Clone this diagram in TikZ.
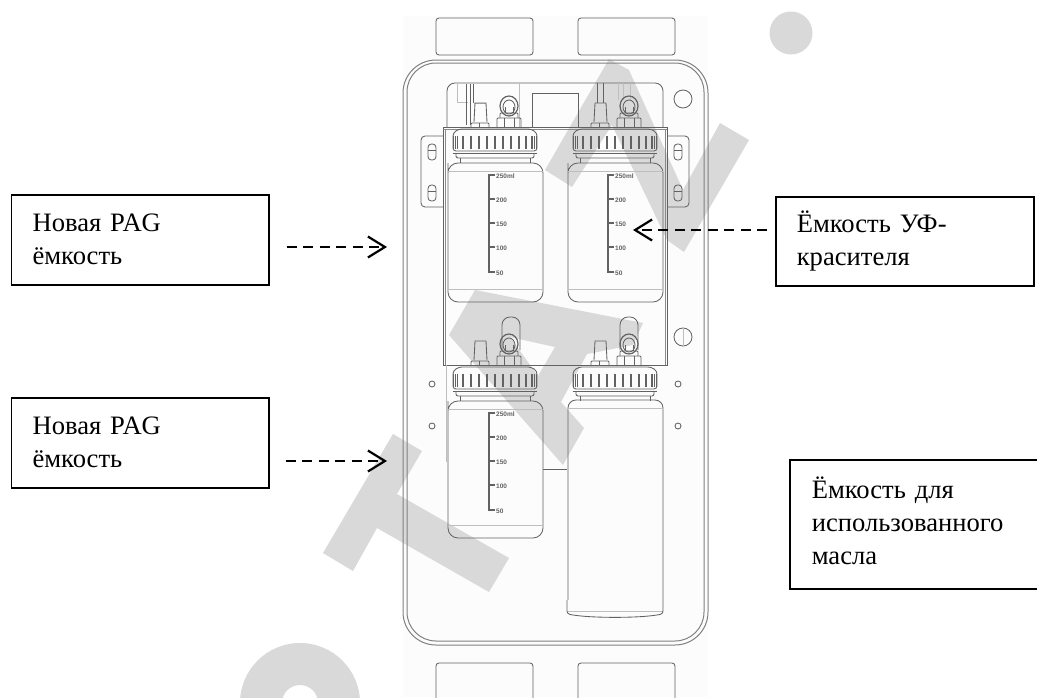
\documentclass[tikz,border=0pt]{standalone}
\usepackage{fontspec}
\setmainfont{Liberation Serif}
\newfontfamily\lblfont{Liberation Sans}
\usetikzlibrary{arrows.meta}
\definecolor{wm}{HTML}{D9D9D9}
\definecolor{ln}{HTML}{626262}
\definecolor{lt}{HTML}{BEBEBE}
\definecolor{pn}{HTML}{FCFCFC}
\tikzset{
  wmark/.style={fill=wm,draw=none,even odd rule},
  thinline/.style={draw=ln,line width=0.85pt},
  panel/.style={draw=ln!80,line width=1pt},
  faint/.style={draw=lt,line width=0.8pt},
  rib/.style={draw=ln,line width=1.1pt},
  callbox/.style={draw=black,line width=1.6pt,anchor=north west,align=left,inner sep=0pt,font=\fontsize{26.6}{33}\selectfont},
  callarrow/.style={draw=black,line width=2pt,dash pattern=on 10pt off 6.5pt,-{Straight Barb[length=17pt,width=21pt,line width=2.2pt]}},
  tinylabel/.style={font=\lblfont\fontsize{6.5}{7}\selectfont\bfseries,text=ln,inner sep=0pt,anchor=west}
}
\newcommand{\capset}[2]{%
  \begin{scope}[shift={(#1,#2)}]
    \draw[thinline,rounded corners=3pt] (-42,24) -- (-42,6) -- (-36,2) -- (36,2) -- (42,6) -- (42,24) -- cycle;
    \foreach \r in {-41.5,-39.5,-37.5,-32,-24,-16,-8,0,8,16,24,31,37,39.5,41.5}
      \draw[rib] (\r,9) -- (\r,22);
    \draw[thinline] (-42,26) -- (42,26);
    \draw[thinline,rounded corners=2pt] (-39,26) -- (-39,31) -- (39,31) -- (39,26);
    \draw[thinline] (-35,31) -- (-35,36) (35,31) -- (35,36);
    \draw[thinline] (-21,-5) -- (-20,-24) -- (-9,-24) -- (-8,-5);
    \draw[thinline,rounded corners=1pt] (-24,1) -- (-24,-4) -- (-6,-4) -- (-6,1);
    \draw[thinline] (-16,-4) -- (-16,1);
    \draw[thinline,rounded corners=1pt] (2,1) -- (2,-9) -- (26,-9) -- (26,1);
    \draw[thinline] (9,-9) -- (9,1) (19,-9) -- (19,1);
    \draw[thinline,rounded corners=1pt] (5,-9) -- (5,-14) -- (23,-14) -- (23,-9);
    \draw[thinline,line width=1.2pt] (14,-21) ellipse [x radius=9,y radius=10];
    \draw[thinline] (14,-20) ellipse [x radius=6,y radius=7];
    \draw[thinline] (10,-20) -- (10,-14) (18,-20) -- (18,-14);
  \end{scope}}
\newcommand{\bottlebody}[4]{% cx, top, bottom, name
  \draw[thinline,rounded corners=10pt] (#1-47,#2+10) -- (#1-47,#2) -- (#1+48,#2) -- (#1+48,#3) -- (#1-47,#3) -- cycle;
  \draw[faint] (#1-47,#2+8) -- (#1+48,#2+8) (#1-47,#3-13) -- (#1+48,#3-13);
}
\newcommand{\scalemarks}[3]{% name, spine x, bottle top
  \draw[rib] (#2+6,#3+12) -- (#2,#3+12) -- (#2,#3+109) -- (#2+6,#3+109);
  \foreach \v/\d in {250ml/12,200/36,150/60,100/84,50/109} {
    \draw[rib] (#2,#3+\d) -- (#2+6,#3+\d);
    \node[tinylabel] (#1\v) at (#2+7,#3+\d+1.5) {\v};
  }}
\begin{document}
\begin{tikzpicture}[x=1pt,y=-1pt]
\useasboundingbox (0,0) rectangle (1037,697);
\begin{scope}
\clip (0,0) rectangle (1037,697);
\fill[pn] (403,16) rectangle (708,697);
% watermark
\fill[wm] (791,33) circle (21.5);
\fill[wmark] (545,170) -- (572,187) -- (612,125) -- (667,240) -- (684,252) -- (749,140) -- (720,123) -- (683,190) -- (629,70) -- (609,59) -- cycle;
\fill[wmark] (475,290) -- (643,323) -- (633,345) -- (587,354) -- (561,402) -- (584,428) -- (563,465) -- (449,335) -- cycle
  (510,337) -- (555,347) -- (538,376) -- cycle;
\fill[wmark] (393,434) -- (422,451) -- (397,494) -- (509,558) -- (489,592) -- (377,528) -- (353,571) -- (323,553) -- cycle;
\fill[wm,even odd rule] (300,703) circle (60) (300,703) circle (18);
% tabs
\foreach \n/\a/\b/\c/\d in {ta/436/18/533/55,tb/578/18/675/55,tc/436/663/533/705,td/578/663/675/705}
  \draw[thinline,rounded corners=3pt] (\a,\b) rectangle (\c,\d);
% outer plate
\draw[panel,rounded corners=33pt] (403,60) rectangle (708,645);
\draw[panel,rounded corners=29pt] (407,63) rectangle (704,641);
% upper inner panel
\draw[thinline,rounded corners=8pt] (447,127) -- (447,83) -- (663,83) -- (663,127);
\draw[thinline] (532,127) -- (532,93) -- (578,93) -- (578,127);
\draw[faint] (519,83) -- (519,127);
\draw[faint] (457,84) -- (457,102) -- (468,102);
\draw[thinline] (466,84) -- (466,125) (470,84) -- (470,125) (473,84) -- (473,103);
\draw[faint] (474,103) -- (486,103);
\draw[thinline] (597,83) -- (597,103) (603,83) -- (603,103);
\draw[faint] (618,83) -- (618,100) (623,83) -- (623,100) (630,83) -- (630,100);
% ears
\draw[thinline,rounded corners=4pt] (443,136) -- (421,136) -- (421,207) -- (443,207);
\draw[thinline,rounded corners=4pt] (668,136) -- (689,136) -- (689,207) -- (668,207);
\foreach \x in {432,678} \foreach \y in {152,193} {
  \draw[thinline,rounded corners=3.4pt] (\x-4,\y-8) rectangle (\x+4,\y+8);
  \draw[thinline] (\x-4,\y-2) -- (\x+4,\y-2);
}
% holes
\draw[thinline] (683,99) circle (9);
\draw[thinline] (683,337) circle (9);
\draw[faint] (683,328) -- (683,346);
\foreach \x in {432,678} \foreach \y in {384,426} \draw[thinline] (\x,\y) circle (3);
% bracket
\draw[thinline,line width=0.9pt] (443,365) -- (443,127) -- (667,127) -- (667,365) -- cycle;
\draw[thinline,draw=ln!75] (445,129) -- (445,365) (665,129) -- (665,365) (443,129) -- (667,129);
% lower panel lines
\draw[faint] (446,365) -- (446,462);
\draw[thinline] (543,469) -- (567,469);
% caps and bottles
\capset{495}{127}\capset{615}{127}\capset{495}{365}\capset{615}{365}
\bottlebody{495}{163}{302}{a}
\bottlebody{615}{163}{302}{b}
\bottlebody{495}{401}{538}{c}
\draw[thinline,rounded corners=8pt] (568,600) -- (568,400) -- (663,400) -- (663,600);
\draw[faint] (568,408) -- (663,408) (568,611) -- (663,611);
\draw[thinline,rounded corners=3pt] (567,600) -- (567,614) -- (573,615) .. controls (595,618) and (635,618) .. (657,615) -- (663,614) -- (663,600);
\scalemarks{s}{489}{163}
\scalemarks{t}{608}{163}
\scalemarks{u}{489}{401}
% extended tubes on lower bottles
\draw[thinline,rounded corners=8pt] (502,350) -- (502,317) -- (520,317) -- (520,350);
\draw[thinline,rounded corners=8pt] (620,350) -- (620,317) -- (638,317) -- (638,350);
\end{scope}
% callouts
\node[callbox,minimum width=257.5pt,minimum height=90pt,text width=215pt] (b1) at (10.5,194) {Новая PAG\\ёмкость};
\node[callbox,minimum width=257.5pt,minimum height=90pt,text width=215pt] (b2) at (10.5,397) {Новая PAG\\ёмкость};
\node[callbox,minimum width=258pt,minimum height=89pt,text width=216pt] (b3) at (775,196) {Ёмкость УФ-\\красителя};
\node[callbox,minimum width=260pt,minimum height=129pt,text width=216pt] (b4) at (789,459) {Ёмкость для\\использованного\\масла\rule[-8pt]{0pt}{8pt}};
\coordinate (t1) at (387,247);
\coordinate (t2) at (387,461);
\coordinate (t3) at (633,230);
\draw[callarrow,shorten <=17pt] (b1.east |- t1) -- (t1);
\draw[callarrow,shorten <=16pt] (b2.east |- t2) -- (t2);
\draw[callarrow,shorten <=8pt] (b3.west |- t3) -- (t3);
\end{tikzpicture}
\end{document}
